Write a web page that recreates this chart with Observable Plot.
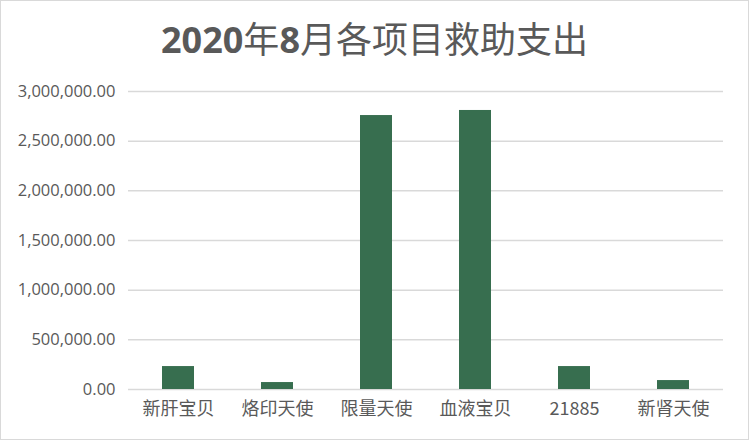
<!DOCTYPE html>
<html><head><meta charset="utf-8">
<script src="https://cdn.jsdelivr.net/npm/d3@7"></script>
<script src="https://cdn.jsdelivr.net/npm/@observablehq/plot@0.6"></script>
<style>
body{margin:0;background:#fff;}
#chart{width:747px;height:438px;border:1px solid #d9d9d9;position:relative;overflow:hidden;background:#fff;}
#title{height:74px;text-align:center;font-family:"Noto Sans CJK SC";font-size:36px;color:#595959;line-height:72px;white-space:nowrap;}
#title b{font-family:"Open Sans";font-weight:bold;}
#title span{font-weight:normal;}
svg{display:block;}
</style></head><body>
<div id="chart"><div id="title"></div></div>
<script>
const titleParts = ["2020", "年", "8", "月各项目救助支出"];
const categories = ["新肝宝贝", "烙印天使", "限量天使", "血液宝贝", "21885", "新肾天使"];
const values = [231000, 70000, 2758000, 2809000, 231000, 90000];
const yTicks = [0, 500000, 1000000, 1500000, 2000000, 2500000, 3000000];

const titleEl = document.getElementById("title");
titleParts.forEach(p => {
  const el = document.createElement(/^\d+$/.test(p) ? "b" : "span");
  el.textContent = p;
  titleEl.appendChild(el);
});

const data = categories.map((c, i) => ({category: c, value: values[i]}));
const fmt = d3.format(",.2f");

const plot = Plot.plot({
  width: 747,
  height: 364,
  marginTop: 16,
  marginBottom: 50,
  marginLeft: 127,
  marginRight: 25,
  style: {fontFamily: "Noto Sans CJK SC", color: "#595959", background: "#fff"},
  x: {domain: categories, paddingInner: 0.68, paddingOuter: 0.34, label: null},
  y: {domain: [0, 3000000], label: null},
  marks: [
    Plot.gridY(yTicks, {stroke: "#d9d9d9", strokeOpacity: 1, strokeWidth: 1.5}),
    Plot.barY(data, {x: "category", y: "value", fill: "#376E4F"}),
    Plot.axisX({tickSize: 0, tickPadding: 13, fontSize: 18, fill: "#595959", label: null}),
    Plot.axisY({ticks: yTicks, tickFormat: fmt, tickSize: 0, tickPadding: 13, fontSize: 16.5, fontFamily: "Open Sans", fill: "#595959", label: null})
  ]
});
document.getElementById("chart").appendChild(plot);
</script>
</body></html>
